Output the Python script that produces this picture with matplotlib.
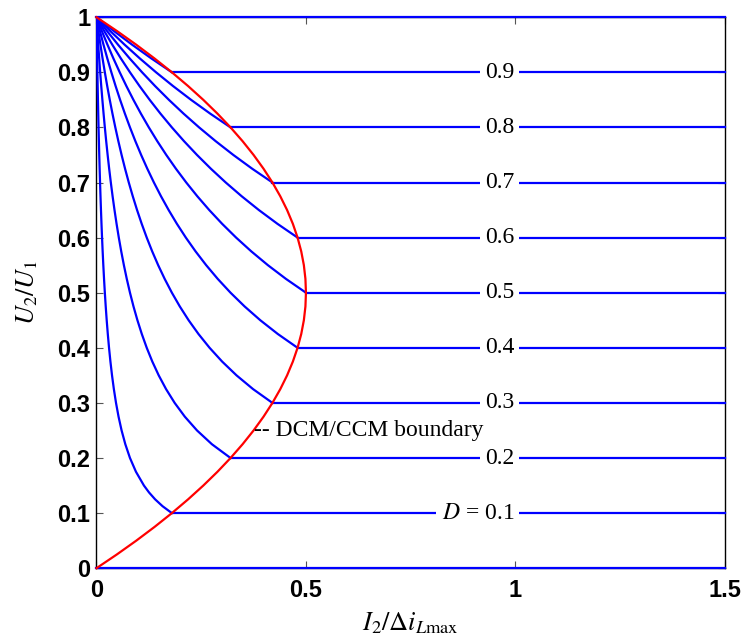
import numpy as np
import matplotlib
matplotlib.use("Agg")
import matplotlib.pyplot as plt

plt.rcParams['mathtext.fontset'] = 'stix'

# duty cycles of the curves (0 and 1 only give the border lines)
duty = [0.1, 0.2, 0.3, 0.4, 0.5, 0.6, 0.7, 0.8, 0.9]
duty_all = [0.0, 0.1, 0.2, 0.3, 0.4, 0.5, 0.6, 0.7, 0.8, 0.9, 1.0]

# U2/U1 sample levels shared by the DCM curves (top to bottom)
u_grid = [1.0, 0.975, 0.95, 0.925, 0.9, 0.875, 0.85, 0.825, 0.8, 0.775, 0.75,
          0.725, 0.7, 0.675, 0.65, 0.625, 0.6, 0.575, 0.55, 0.525, 0.5,
          0.475, 0.45, 0.425, 0.4, 0.375, 0.35, 0.325, 0.3, 0.275, 0.25,
          0.225, 0.2, 0.175, 0.15, 0.1375, 0.125, 0.1125, 0.1]

# I2/diLmax along each DCM curve, read at the u_grid levels
dcm_i = [
    [0, 0.00051, 0.00105, 0.00162, 0.00222, 0.00286, 0.00353, 0.00424, 0.005,
     0.00581, 0.00667, 0.00759, 0.00857, 0.00963, 0.01077, 0.012, 0.01333,
     0.01478, 0.01636, 0.0181, 0.02, 0.02211, 0.02444, 0.02706, 0.03, 0.03333,
     0.03714, 0.04154, 0.04667, 0.05273, 0.06, 0.06889, 0.08, 0.09429, 0.11333,
     0.12545, 0.14, 0.15778, 0.18],
    [0, 0.00205, 0.00421, 0.00649, 0.00889, 0.01143, 0.01412, 0.01697, 0.02,
     0.02323, 0.02667, 0.03034, 0.03429, 0.03852, 0.04308, 0.048, 0.05333,
     0.05913, 0.06545, 0.07238, 0.08, 0.08842, 0.09778, 0.10824, 0.12, 0.13333,
     0.14857, 0.16615, 0.18667, 0.21091, 0.24, 0.27556, 0.32],
    [0, 0.00462, 0.00947, 0.01459, 0.02, 0.02571, 0.03176, 0.03818, 0.045,
     0.05226, 0.06, 0.06828, 0.07714, 0.08667, 0.09692, 0.108, 0.12, 0.13304,
     0.14727, 0.16286, 0.18, 0.19895, 0.22, 0.24353, 0.27, 0.3, 0.33429,
     0.37385, 0.42],
    [0, 0.00821, 0.01684, 0.02595, 0.03556, 0.04571, 0.05647, 0.06788, 0.08,
     0.0929, 0.10667, 0.12138, 0.13714, 0.15407, 0.17231, 0.192, 0.21333,
     0.23652, 0.26182, 0.28952, 0.32, 0.35368, 0.39111, 0.43294, 0.48],
    [0, 0.01282, 0.02632, 0.04054, 0.05556, 0.07143, 0.08824, 0.10606, 0.125,
     0.14516, 0.16667, 0.18966, 0.21429, 0.24074, 0.26923, 0.3, 0.33333,
     0.36957, 0.40909, 0.45238, 0.5],
    [0, 0.01846, 0.03789, 0.05838, 0.08, 0.10286, 0.12706, 0.15273, 0.18,
     0.20903, 0.24, 0.2731, 0.30857, 0.34667, 0.38769, 0.432, 0.48],
    [0, 0.02513, 0.05158, 0.07946, 0.10889, 0.14, 0.17294, 0.20788, 0.245,
     0.28452, 0.32667, 0.37172, 0.42],
    [0, 0.03282, 0.06737, 0.10378, 0.14222, 0.18286, 0.22588, 0.27152, 0.32],
    [0, 0.04154, 0.08526, 0.13135, 0.18],
]

# DCM/CCM boundary
bnd_u = [0, 0.025, 0.05, 0.075, 0.1, 0.125, 0.15, 0.175, 0.2, 0.225, 0.25,
         0.275, 0.3, 0.325, 0.35, 0.375, 0.4, 0.425, 0.45, 0.475, 0.5,
         0.525, 0.55, 0.575, 0.6, 0.625, 0.65, 0.675, 0.7, 0.725, 0.75,
         0.775, 0.8, 0.825, 0.85, 0.875, 0.9, 0.925, 0.95, 0.975, 1.0]
bnd_i = [0, 0.04875, 0.095, 0.13875, 0.18, 0.21875, 0.255, 0.28875, 0.32,
         0.34875, 0.375, 0.39875, 0.42, 0.43875, 0.455, 0.46875, 0.48,
         0.48875, 0.495, 0.49875, 0.5, 0.49875, 0.495, 0.48875, 0.48,
         0.46875, 0.455, 0.43875, 0.42, 0.39875, 0.375, 0.34875, 0.32,
         0.28875, 0.255, 0.21875, 0.18, 0.13875, 0.095, 0.04875, 0]

# CCM start point of each horizontal line
ccm_start = [0, 0.18, 0.32, 0.42, 0.48, 0.5, 0.48, 0.42, 0.32, 0.18, 0]
x_end = 1.5

labels = [r'$D$ = 0.1', '0.2', '0.3', '0.4', '0.5', '0.6', '0.7', '0.8', '0.9']

x_ticks = [0, 0.5, 1, 1.5]
x_ticklabels = ['0', '0.5', '1', '1.5']
y_ticks = [0, 0.1, 0.2, 0.3, 0.4, 0.5, 0.6, 0.7, 0.8, 0.9, 1.0]
y_ticklabels = ['0', '0.1', '0.2', '0.3', '0.4', '0.5', '0.6', '0.7', '0.8', '0.9', '1']

serif = 'Liberation Serif'
blue = '#0000ff'
red = '#ff0000'

fig = plt.figure(figsize=(7.42, 6.37), dpi=100)
ax = fig.add_axes([0.130, 0.108, 0.847, 0.865])

# DCM curves
for d, xs in zip(duty, dcm_i):
    ax.plot(xs, u_grid[:len(xs)], color=blue, lw=1.6, zorder=3)

# CCM horizontal lines
for d, x0 in zip(duty_all, ccm_start):
    ax.plot([x0, x_end], [d, d], color=blue, lw=1.6, zorder=4, clip_on=False)

# boundary
ax.plot(bnd_i, bnd_u, color=red, lw=1.6, zorder=5, clip_on=False)

# duty labels on the lines
for d, lab in zip(duty, labels):
    ax.text(0.997, d, lab, ha='right', va='center', fontsize=17,
            family=serif, zorder=6,
            bbox=dict(boxstyle='square,pad=0.22', fc='white', ec='none'))

ax.text(0.376, 0.25, '-- DCM/CCM boundary', ha='left', va='center',
        fontsize=17, family=serif, zorder=6)

ax.set_xlim(0, 1.5)
ax.set_ylim(0, 1)
ax.set_xticks(x_ticks)
ax.set_xticklabels(x_ticklabels)
ax.set_yticks(y_ticks)
ax.set_yticklabels(y_ticklabels)
for t in ax.get_xticklabels() + ax.get_yticklabels():
    t.set_family('Liberation Sans')
    t.set_fontweight('bold')
    t.set_fontsize(17)
ax.tick_params(direction='in', length=5, width=0.8, color='#555555',
               top=True, right=True)
ax.tick_params(axis='x', pad=8)
ax.tick_params(axis='y', pad=4.5)
for s in ax.spines.values():
    s.set_linewidth(1.0)

ax.set_xlabel(r'$I_2/\Delta i_{L\mathrm{max}}$', fontsize=19, labelpad=6)
ax.set_ylabel(r'$U_2/U_1$', fontsize=19, labelpad=12)

fig.savefig('out.png', dpi=100)
